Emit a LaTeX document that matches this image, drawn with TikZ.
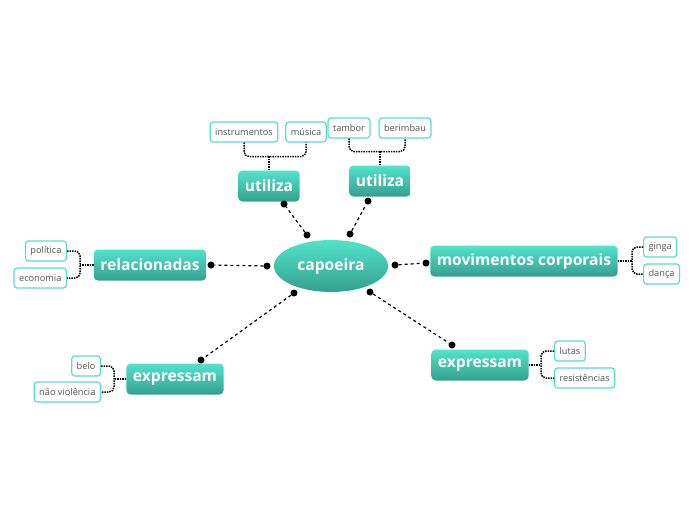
\documentclass[tikz,border=0pt]{standalone}
\usepackage{fontspec}
\setmainfont{Open Sans}
\usetikzlibrary{shapes.geometric}
\definecolor{mintop}{HTML}{52E3C9}
\definecolor{minbot}{HTML}{35A08F}
\definecolor{leafline}{HTML}{55E0C8}
\definecolor{leaftext}{HTML}{555555}

\begin{document}
\begin{tikzpicture}[x=1pt,y=-1pt,
  topic/.style={rounded corners=4pt, top color=mintop, bottom color=minbot, draw=none,
    text=white, font=\fontsize{15.6}{18}\selectfont\bfseries, minimum height=31pt, inner xsep=6.5pt},
  hub/.style={ellipse, top color=mintop, bottom color=minbot, draw=none, text=white,
    font=\fontsize{15.6}{18}\selectfont\bfseries, minimum width=114pt, minimum height=52pt},
  leaf/.style={rounded corners=3pt, draw=leafline, line width=1.2pt, fill=white, text=leaftext,
    font=\fontsize{9.2}{11}\selectfont, minimum height=20pt, inner xsep=5pt},
  knob/.style={circle, fill=black, inner sep=0pt, minimum size=7pt},
  link/.style={dashed, dash pattern=on 3pt off 3pt, line width=1.2pt},
  brace/.style={line width=1.5pt, dash pattern=on 1.5pt off 1pt, rounded corners=5pt}]
\useasboundingbox (0,0) rectangle (696,520);
% centre:
\node[hub] (capo) at (331,266) {capoeira};
% topics:
\node[topic] (util1) at (269,186) {utiliza};
\node[topic] (util2) at (380,181) {utiliza};
\node[topic] (rel) at (150,265) {relacionadas};
\node[topic] (mov) at (524,261) {movimentos corporais};
\node[topic] (expL) at (175,379) {expressam};
\node[topic] (expR) at (480,365) {expressam};
% leaves:
\node[leaf] (instr) at (244,132) {instrumentos};
\node[leaf] (mus) at (306,132) {música};
\node[leaf] (tamb) at (349,128) {tambor};
\node[leaf] (berim) at (405,128) {berimbau};
\node[leaf, anchor=east] (pol) at (67,251) {política};
\node[leaf, anchor=east] (eco) at (67,278) {economia};
\node[leaf, anchor=west] (ginga) at (643,247) {ginga};
\node[leaf, anchor=west] (danca) at (643,274) {dança};
\node[leaf, anchor=east] (belo) at (101,366) {belo};
\node[leaf, anchor=east] (naov) at (101,392) {não violência};
\node[leaf, anchor=west] (lutas) at (554,351) {lutas};
\node[leaf, anchor=west] (resist) at (554,378) {resistências};
% knobs at the ends of the links:
\node[knob] (k1a) at (307,235) {};
\node[knob] (k1b) at (284,204) {};
\node[knob] (k2a) at (350,234) {};
\node[knob] (k2b) at (368,201) {};
\node[knob] (k3a) at (267,266) {};
\node[knob] (k3b) at (211,265) {};
\node[knob] (k4a) at (395,265) {};
\node[knob] (k4b) at (426,263) {};
\node[knob] (k5a) at (294,293) {};
\node[knob] (k5b) at (201,360) {};
\node[knob] (k6a) at (370,292) {};
\node[knob] (k6b) at (452,345) {};
% links:
\draw[link] (k1a) -- (k1b);
\draw[link] (k2a) -- (k2b);
\draw[link] (k3a) -- (k3b);
\draw[link] (k4a) -- (k4b);
\draw[link] (k5a) -- (k5b);
\draw[link] (k6a) -- (k6b);
% braces:
\draw[brace] (instr.south) -- ++(0,14) -| (mus.south);
\draw[brace] (util1.north) -- ++(0,-14);
\draw[brace] (tamb.south) -- ++(0,13) -| (berim.south);
\draw[brace] (util2.north) -- ++(0,-14);
\draw[brace] (pol.east) -| (80,265) |- (eco.east);
\draw[brace] (rel.west) -- (80,265);
\draw[brace] (ginga.west) -| (632,261) |- (danca.west);
\draw[brace] (mov.east) -- (632,261);
\draw[brace] (belo.east) -| (114,379) |- (naov.east);
\draw[brace] (expL.west) -- (114,379);
\draw[brace] (lutas.west) -| (541,365) |- (resist.west);
\draw[brace] (expR.east) -- (541,365);
\end{tikzpicture}
\end{document}
